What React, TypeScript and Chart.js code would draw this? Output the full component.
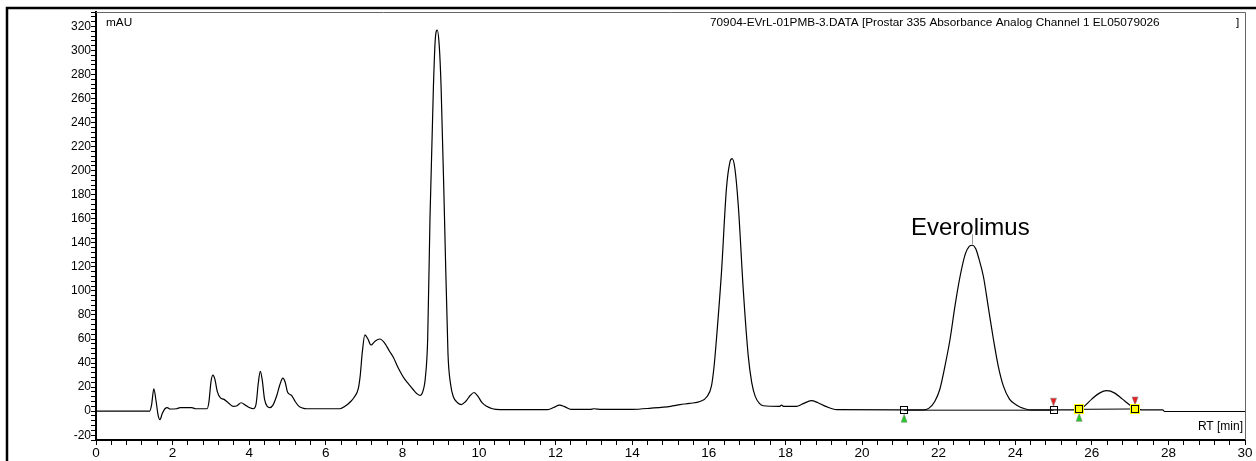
import React, { useEffect, useRef } from 'react';
import { Chart, registerables } from 'chart.js';

Chart.register(...registerables);

// Chromatogram trace: retention time (min) and absorbance (mAU)
const rtMin = [
  0, 1.4, 1.45, 1.51, 1.57, 1.62, 1.67, 1.73, 1.8, 1.86, 1.93, 2.1, 2.2, 2.5, 2.6, 2.9,
  2.95, 3.0, 3.05, 3.1, 3.17, 3.25, 3.33, 3.45, 3.58, 3.68, 3.79, 3.9, 4.0, 4.11,
  4.18, 4.24, 4.29, 4.34, 4.4, 4.47, 4.54, 4.62, 4.72, 4.8, 4.88, 4.94, 5.0, 5.11,
  5.2, 5.3, 5.4, 5.5, 6.37, 6.5, 6.65, 6.75, 6.85, 6.9, 6.95, 7.02, 7.1, 7.18, 7.28,
  7.41, 7.55, 7.66, 7.76, 7.86, 7.94, 8.05, 8.15, 8.28, 8.38, 8.46, 8.53, 8.6, 8.66,
  8.72, 8.81, 8.86, 8.91, 8.96, 9.01, 9.1, 9.19, 9.26, 9.33, 9.44, 9.54, 9.65, 9.77,
  9.87, 9.97, 10.08, 10.2, 10.35, 10.55, 11.8, 11.95, 12.1, 12.25, 12.4, 12.9, 13.0,
  13.2, 14.0, 14.5, 15.0, 15.25, 15.5, 15.77, 15.95, 16.07, 16.14, 16.2, 16.33, 16.46,
  16.55, 16.61, 16.68, 16.77, 16.9, 17.03, 17.12, 17.21, 17.32, 17.42, 17.85, 17.9,
  17.95, 18.29, 18.45, 18.68, 18.85, 19.05, 19.34, 21.6, 21.75, 21.9, 22.03, 22.15,
  22.3, 22.43, 22.56, 22.7, 22.8, 22.88, 22.97, 23.05, 23.17, 23.3, 23.43, 23.56,
  23.69, 23.85, 24.04, 24.25, 24.43, 25.67, 25.8, 26.0, 26.2, 26.39, 26.6, 26.8, 27.0,
  27.13, 27.3, 27.85, 27.9, 30,
];
const mAU = [
  0, 0, 5, 18.5, 8, -3, -7, -2, 2, 3, 1.8, 2, 3, 3, 2, 2,
  8, 24, 30, 27, 16, 11, 10, 7, 4, 4.5, 7, 5, 3, 2,
  6, 24, 33, 26, 10, 4, 3, 5, 13, 22, 27.5, 24, 16, 13,
  8, 4, 2.5, 2, 2, 4, 8, 12, 19, 30, 48, 63.5, 60, 55, 58,
  60, 56, 50, 45, 38, 33, 27, 23, 18, 14.5, 13, 16, 28, 60,
  160, 270, 310, 317, 305, 270, 160, 48, 22, 12, 7, 5.5, 8, 13,
  15.5, 12.5, 7, 4, 2, 1.3, 1.3, 3, 5, 3.5, 1.5, 1.5, 2,
  1.5, 1.5, 2.5, 4, 5.4, 6.5, 8, 12, 21, 38, 60, 115, 185,
  207, 210, 202, 171, 101, 46, 24, 12.5, 6.5, 4.5, 4, 5,
  4, 4, 6, 8.7, 7, 4, 1.2, 1, 2.5, 8, 18, 35,
  60, 88, 112, 131, 137, 138, 135, 127, 112, 86, 60, 37,
  21, 10, 5, 2, 1, 1, 4, 10, 15, 17, 15, 10, 5,
  2.5, 1, 1, -0.3, -0.3,
];

// Integration markers (peak start / end) and fills
const peakStartRT = [21.1, 25.67];
const peakStartMAU = [0.8, 1.5];
const peakEndRT = [25.0, 27.13];
const peakEndMAU = [0.8, 1.8];
const peakMarkerFill = ['#ffffff', '#ffff00'];

// Named peak label
const peakName = 'Everolimus';
const peakNameRT = 22.88;
const peakNameMAU = 138;

// Axis settings
const xMin = 0;
const xMax = 30;
const xMinorStep = 0.4;
const xLabelStep = 2;
const yMin = -24;
const yMax = 332;
const yMinorStep = 4;
const yLabelStep = 20;

const yUnitLabel = 'mAU';
const xUnitLabel = 'RT [min]';
const fileTitle = '70904-EVrL-01PMB-3.DATA [Prostar 335 Absorbance Analog Channel 1 EL05079026';
const fileTitleClose = ']';

const FONT = '"Liberation Sans", Arial, sans-serif';

const isMultiple = (v: number, step: number) => {
  const r = v / step;
  return Math.abs(r - Math.round(r)) < 1e-6;
};

const decorPlugin = {
  id: 'decor',
  afterDatasetsDraw(chart: any) {
    const ctx = chart.ctx as CanvasRenderingContext2D;
    const xs = chart.scales.x;
    const ys = chart.scales.y;
    ctx.save();
    // start triangles (green, pointing up, below marker)
    peakStartRT.forEach((rt, i) => {
      const px = xs.getPixelForValue(rt);
      const py = ys.getPixelForValue(peakStartMAU[i]);
      ctx.fillStyle = '#22cc22';
      ctx.strokeStyle = '#888';
      ctx.lineWidth = 0.6;
      ctx.beginPath();
      ctx.moveTo(px, py + 4);
      ctx.lineTo(px + 3, py + 12);
      ctx.lineTo(px - 3, py + 12);
      ctx.closePath();
      ctx.fill();
      ctx.stroke();
    });
    // end triangles (red, pointing down, above marker)
    peakEndRT.forEach((rt, i) => {
      const px = xs.getPixelForValue(rt);
      const py = ys.getPixelForValue(peakEndMAU[i]);
      ctx.fillStyle = '#e82020';
      ctx.strokeStyle = '#888';
      ctx.lineWidth = 0.6;
      ctx.beginPath();
      ctx.moveTo(px, py - 4);
      ctx.lineTo(px + 3, py - 12);
      ctx.lineTo(px - 3, py - 12);
      ctx.closePath();
      ctx.fill();
      ctx.stroke();
    });
    // square markers
    const drawSquare = (rt: number, v: number, fill: string) => {
      const px = Math.round(xs.getPixelForValue(rt));
      const py = Math.round(ys.getPixelForValue(v));
      if (fill !== '#ffffff') {
        ctx.fillStyle = fill;
        ctx.fillRect(px - 5, py - 5, 10, 10);
      }
      ctx.strokeStyle = '#000';
      ctx.lineWidth = 1;
      ctx.strokeRect(px - 3.5, py - 3.5, 7, 7);
    };
    peakStartRT.forEach((rt, i) => drawSquare(rt, peakStartMAU[i], peakMarkerFill[i]));
    peakEndRT.forEach((rt, i) => drawSquare(rt, peakEndMAU[i], peakMarkerFill[i]));

    // peak name
    const lx = xs.getPixelForValue(peakNameRT);
    const ly = ys.getPixelForValue(peakNameMAU);
    ctx.strokeStyle = '#999';
    ctx.lineWidth = 1;
    ctx.beginPath();
    ctx.moveTo(Math.round(lx) + 0.5, ly - 1);
    ctx.lineTo(Math.round(lx) + 0.5, ly - 11);
    ctx.stroke();
    ctx.fillStyle = '#000';
    ctx.font = `24px ${FONT}`;
    ctx.textAlign = 'center';
    ctx.textBaseline = 'alphabetic';
    ctx.fillText(peakName, lx - 2, ly - 10);
    ctx.restore();
  },
  afterDraw(chart: any) {
    const ctx = chart.ctx as CanvasRenderingContext2D;
    const a = chart.chartArea;
    ctx.save();
    // outer frame
    ctx.strokeStyle = '#000';
    ctx.lineWidth = 2.5;
    ctx.strokeRect(7, 8, 1400, 600);
    // plot area top/right border
    ctx.strokeStyle = '#666';
    ctx.lineWidth = 1;
    ctx.beginPath();
    ctx.moveTo(a.left, a.top + 0.5);
    ctx.lineTo(a.right + 0.5, a.top + 0.5);
    ctx.lineTo(a.right + 0.5, a.bottom);
    ctx.stroke();
    // texts
    ctx.fillStyle = '#000';
    ctx.textBaseline = 'middle';
    ctx.font = `11.8px ${FONT}`;
    ctx.textAlign = 'left';
    ctx.fillText(yUnitLabel, a.left + 10, a.top + 11);
    ctx.fillText(fileTitle, a.right - 535, a.top + 11);
    ctx.fillText(fileTitleClose, a.right - 9, a.top + 11);
    ctx.font = `12px ${FONT}`;
    ctx.textAlign = 'right';
    ctx.fillText(xUnitLabel, a.right - 2, a.bottom - 13);
    ctx.restore();
  },
};

export default function App() {
  const ref = useRef<HTMLCanvasElement | null>(null);

  useEffect(() => {
    document.body.style.margin = '0';
    const canvas = ref.current;
    if (!canvas) return;
    const trace = rtMin.map((x, i) => ({ x, y: mAU[i] }));
    const baselines = peakStartRT.map((rt, i) => ({
      data: [
        { x: rt, y: peakStartMAU[i] },
        { x: peakEndRT[i], y: peakEndMAU[i] },
      ],
    }));

    const chart = new Chart(canvas, {
      type: 'line',
      data: {
        datasets: [
          {
            data: trace,
            borderColor: '#000',
            borderWidth: 1.2,
            pointRadius: 0,
            cubicInterpolationMode: 'monotone',
            fill: false,
          },
          ...baselines.map((b) => ({
            data: b.data,
            borderColor: '#000',
            borderWidth: 1,
            pointRadius: 0,
            fill: false,
          })),
        ],
      },
      options: {
        animation: false,
        responsive: false,
        maintainAspectRatio: false,
        parsing: true,
        layout: { padding: { left: 0, top: 12, right: 11, bottom: 0 } },
        plugins: {
          legend: { display: false },
          tooltip: { enabled: false },
          title: { display: false },
        },
        scales: {
          x: {
            type: 'linear',
            min: xMin,
            max: xMax,
            afterFit: (s: any) => {
              s.height = 21;
            },
            border: { display: true, color: '#000', width: 2 },
            grid: {
              display: true,
              drawOnChartArea: false,
              drawTicks: true,
              tickLength: 5,
              color: '#000',
              lineWidth: 1,
            },
            ticks: {
              stepSize: xMinorStep,
              autoSkip: false,
              maxRotation: 0,
              padding: 0,
              color: '#000',
              font: { family: FONT, size: 13.5 },
              callback: (v: any) => (isMultiple(Number(v), xLabelStep) ? String(Math.round(Number(v))) : ''),
            },
          },
          y: {
            type: 'linear',
            min: yMin,
            max: yMax,
            afterFit: (s: any) => {
              s.width = 96;
            },
            border: { display: true, color: '#000', width: 2 },
            grid: {
              display: true,
              drawOnChartArea: false,
              drawTicks: true,
              tickLength: 5,
              color: '#000',
              lineWidth: 1,
            },
            ticks: {
              stepSize: yMinorStep,
              autoSkip: false,
              padding: 0,
              color: '#000',
              font: { family: FONT, size: 12 },
              callback: (v: any) => (isMultiple(Number(v), yLabelStep) ? String(Math.round(Number(v))) : ''),
            },
          },
        },
      },
      plugins: [decorPlugin],
    } as any);

    return () => chart.destroy();
  }, []);

  return (
    <canvas
      ref={ref}
      width={1256}
      height={461}
      style={{ display: 'block', width: 1256, height: 461 }}
    />
  );
}
